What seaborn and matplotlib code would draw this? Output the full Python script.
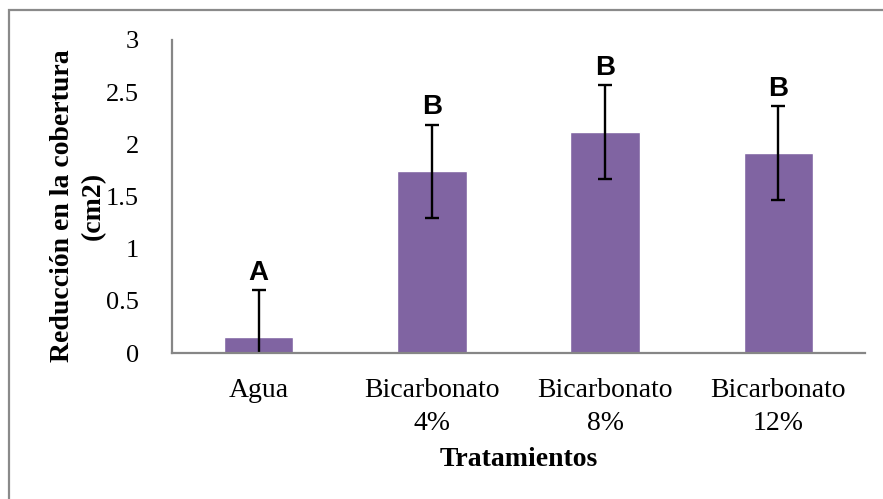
import matplotlib
matplotlib.use("Agg")
import matplotlib.pyplot as plt
import seaborn as sns
import pandas as pd
from matplotlib.patches import Rectangle

# Treatment data
tratamientos = ["Agua", "Bicarbonato\n4%", "Bicarbonato\n8%", "Bicarbonato\n12%"]
reduccion = [0.15, 1.74, 2.12, 1.92]
error = [0.45, 0.45, 0.45, 0.45]
letras = ["A", "B", "B", "B"]
yticks = [0, 0.5, 1, 1.5, 2, 2.5, 3]
ytick_labels = ["0", "0.5", "1", "1.5", "2", "2.5", "3"]

df = pd.DataFrame({"Tratamiento": tratamientos, "Reduccion": reduccion})

sns.set_theme(style="white")
plt.rcParams["font.family"] = ["Liberation Serif", "DejaVu Serif"]
plt.rcParams["text.color"] = "black"
plt.rcParams["xtick.color"] = "black"
plt.rcParams["ytick.color"] = "black"
plt.rcParams["axes.labelcolor"] = "black"

fig = plt.figure(figsize=(8.83, 4.99), dpi=100)
ax = fig.add_axes([172 / 883, 1 - 353 / 499, (865 - 172) / 883, (353 - 40) / 499])

sns.barplot(data=df, x="Tratamiento", y="Reduccion", color="#8064A2",
            saturation=1, width=0.4, errorbar=None, ax=ax)

ax.errorbar(range(len(reduccion)), reduccion, yerr=error, fmt="none",
            ecolor="black", elinewidth=1.7, capsize=5, capthick=1.7)

for i, (v, e, l) in enumerate(zip(reduccion, error, letras)):
    ax.annotate(l, (i, v + e), xytext=(0, 3), textcoords="offset points",
                ha="center", va="bottom", fontsize=20, fontweight="bold",
                color="black", family=["Liberation Sans", "DejaVu Sans"])

ax.set_xlim(-0.5, 3.5)
ax.set_ylim(0, 3)
ax.set_yticks(yticks)
ax.set_yticklabels(ytick_labels, fontsize=19)
ax.set_xticks(range(len(tratamientos)))
ax.set_xticklabels(tratamientos, fontsize=20, linespacing=1.4)
ax.tick_params(axis="both", length=0)
ax.tick_params(axis="y", pad=24)
ax.tick_params(axis="x", pad=18)

ax.set_xlabel("Tratamientos", fontsize=20, fontweight="bold", labelpad=8)
ax.set_ylabel("Reducción en la cobertura\n(cm2)", fontsize=20,
              fontweight="bold", linespacing=1.3, labelpad=0)
ax.yaxis.label.set_y(0.47)

for s in ["top", "right"]:
    ax.spines[s].set_visible(False)
for s in ["left", "bottom"]:
    ax.spines[s].set_color("#868686")
    ax.spines[s].set_linewidth(1.6)

# Outer chart frame
fig.patches.append(Rectangle((9 / 883, -0.1), 1.2, 1.1 - 10 / 499,
                             transform=fig.transFigure, fill=False,
                             edgecolor="#8a8a8a", linewidth=1.6))

fig.savefig("out.png", dpi=100)
